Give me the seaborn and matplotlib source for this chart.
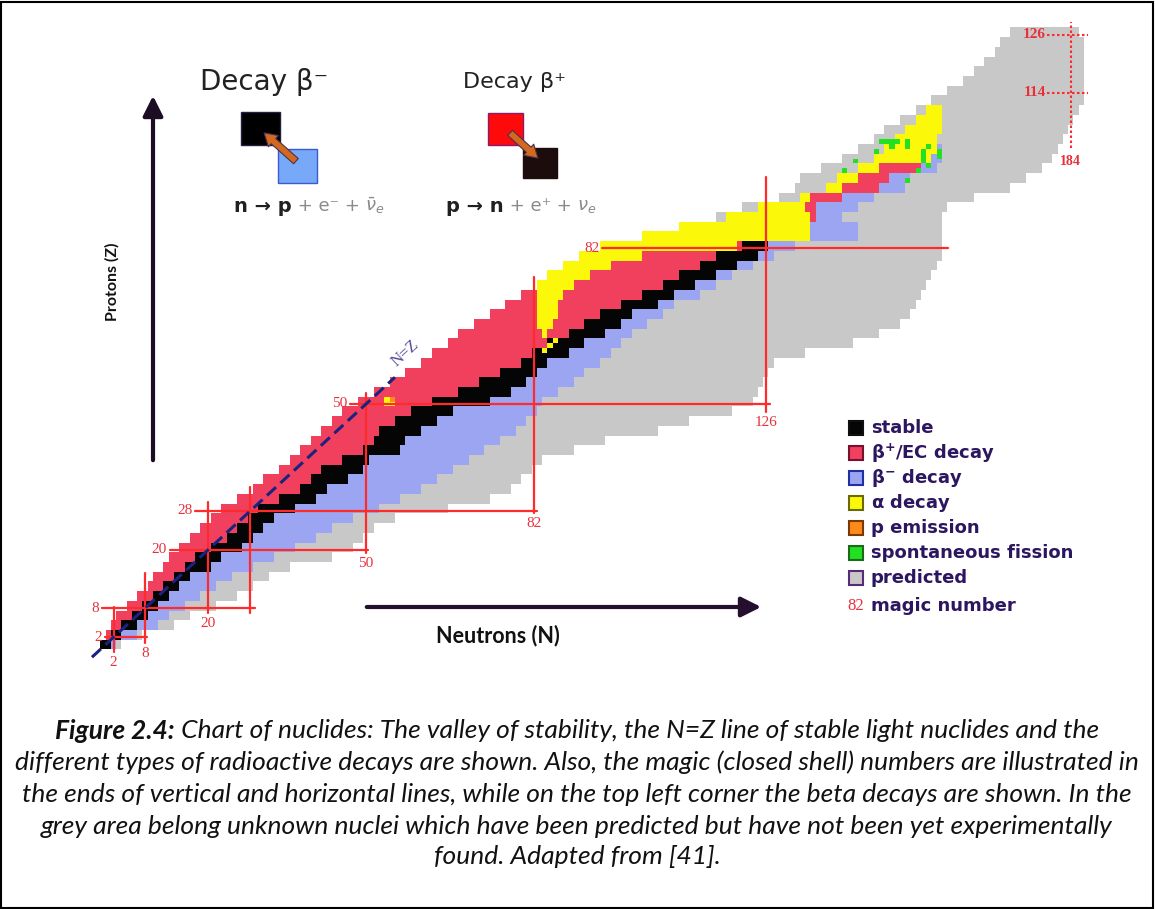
import numpy as np
import pandas as pd
import matplotlib
matplotlib.use("Agg")
import matplotlib.pyplot as plt
import seaborn as sns
from matplotlib.colors import ListedColormap
from matplotlib.patches import Rectangle, FancyArrowPatch

W, H, DPI = 1155, 909, 100

# ---------------- data ----------------
# proton bands (lower Z of each 2-row band)
z_band = [0, 2, 4, 6, 8, 10, 12, 14, 16, 18, 20, 22, 24, 26, 28, 30, 32, 34, 36, 38,
          40, 42, 44, 46, 48, 50, 52, 54, 56, 58, 60, 62, 64, 66, 68, 70, 72, 74, 76, 78,
          80, 82, 84, 86, 88, 90, 92, 94, 96, 98, 100, 102, 104, 106, 108, 110, 112, 114,
          116, 118, 120, 122, 124, 126]
pred_lo = [0, 1, 2, 3, 5, 7, 9, 10, 12, 13, 15, 17, 19, 21, 23, 26, 29, 31, 34, 36,
           38, 40, 42, 44, 46, 49, 52, 55, 58, 61, 63, 66, 68, 71, 74, 77, 80, 83, 85, 88,
           91, 95, 103, 110, 117, 122, 129, 132, 133, 137, 141, 144, 147, 149, 152, 155,
           158, 161, 164, 166, 168, 170, 171, 173]
known_lo = [0, 1, 2, 3, 5, 7, 9, 10, 12, 13, 15, 17, 19, 21, 23, 26, 29, 31, 34, 36,
            38, 40, 42, 44, 46, 49, 52, 55, 58, 61, 63, 66, 68, 71, 74, 77, 80, 83, 85, 88,
            91, 95, 103, 110, 119, 125, 133, 138, 140, 144, 147, 149, 151, 153, 155, 157,
            158, 161, 164, 166, 168, 170, 171, 173]
alpha_lo = [0] * 25 + [54, 0, 0, 0, 0, 0, 0, 84, 83, 83, 83, 83, 83, 85, 88,
                       91, 95, 103, 110, 119, 125, 133, 138, 140, 144, 147, 149, 151, 153, 155, 157,
                       0, 0, 0, 0, 0, 0, 0, 0]
alpha_hi = [0] * 25 + [56, 0, 0, 0, 0, 0, 0, 85, 86, 87, 87, 88, 90, 93, 97,
                       103, 121, 135, 135, 135, 134, 135, 141, 144, 148, 158, 159, 159, 160, 160, 160,
                       0, 0, 0, 0, 0, 0, 0, 0]
stable_lo = [0, 2, 4, 6, 8, 10, 12, 14, 16, 18, 21, 24, 26, 28, 30, 34, 38, 40, 42, 46,
             50, 52, 53, 56, 59, 63, 68, 72, 76, 80, 82, 85, 89, 92, 95, 99, 103, 107, 110, 114,
             117, 122, 135, 135, 136, 136, 141, 148, 150, 156, 158, 159, 159, 160, 160, 160,
             158, 161, 164, 166, 168, 170, 171, 173]
stable_hi = [2, 4, 7, 9, 11, 13, 15, 17, 21, 23, 27, 29, 31, 33, 37, 41, 43, 47, 50, 51,
             57, 58, 61, 64, 67, 74, 78, 81, 83, 85, 89, 92, 96, 99, 101, 106, 109, 113, 117, 121,
             125, 127, 135, 135, 136, 136, 141, 148, 150, 156, 158, 159, 159, 160, 160, 160,
             158, 161, 164, 166, 168, 170, 171, 173]
bminus_hi = [3, 7, 11, 13, 16, 19, 22, 25, 29, 33, 37, 41, 44, 48, 53, 57, 61, 64, 67, 70,
             73, 76, 79, 81, 83, 84, 87, 90, 92, 95, 97, 99, 101, 104, 107, 109, 114, 117, 120, 124,
             128, 132, 144, 144, 141, 144, 147, 153, 154, 159, 160, 160, 159, 160, 160, 160,
             158, 161, 164, 166, 168, 170, 171, 173]
pred_hi = [4, 8, 14, 17, 22, 26, 29, 32, 36, 44, 48, 50, 52, 56, 66, 74, 78, 80, 82, 84,
           90, 96, 106, 112, 120, 124, 125, 126, 127, 128, 134, 143, 148, 152, 154, 155, 156, 157, 158, 159,
           160, 160, 160, 160, 160, 161, 166, 173, 176, 179, 181, 182, 183, 184, 185, 186,
           187, 187, 187, 187, 187, 187, 187, 186]

# isolated cells
fission_z = [104, 104, 104, 104, 103, 104, 103, 100, 101, 102, 103, 99, 101, 102, 100, 102, 98, 96, 98]
fission_n = [148, 149, 150, 151, 150, 153, 153, 156, 156, 156, 157, 157, 159, 159, 143, 147, 141, 153, 155]
pemit_z = [51]
pemit_n = [55]
alpha_spot_z = [61, 62, 63]
alpha_spot_n = [84, 85, 86]

# magic numbers
magic_h_z = [2, 8, 20, 28, 50, 82]
magic_h_n0 = [0.4, -0.2, 12.7, 17.5, 47.0, 94.9]
magic_h_n1 = [8.4, 28.9, 50.4, 82.5, 126.8, 160.6]
magic_v_n = [2, 8, 20, 28, 50, 82, 126]
magic_v_z0 = [-1.0, 0.8, 7.0, 7.0, 19.3, 27.6, 48.4]
magic_v_z1 = [8.2, 15.2, 29.8, 32.9, 52.3, 76.1, 96.7]
magic_v_label = ["2", "8", "20", "", "50", "82", "126"]
pred_magic_z = [126, 114]
pred_magic_n = [184]

legend_labels = ["stable", r"$\mathbf{\beta^{+}}$/EC decay", r"$\mathbf{\beta^{-}}$ decay",
                 r"$\mathbf{\alpha}$ decay", "p emission", "spontaneous fission", "predicted"]

caption_lines = [
    "Chart of nuclides: The valley of stability, the N=Z line of stable light nuclides and the",
    "different types of radioactive decays are shown. Also, the magic (closed shell) numbers are illustrated in",
    "the ends of vertical and horizontal lines, while on the top left corner the beta decays are shown. In the",
    "grey area belong unknown nuclei which have been predicted but have not been yet experimentally",
    "found. Adapted from [41].",
]

# ---------------- styling ----------------
sns.set_theme(style="white")
plt.rcParams["font.family"] = ["DejaVu Sans"]

C_STABLE, C_BPLUS, C_BMINUS = "#050505", "#f0405e", "#9ba5f2"
C_ALPHA, C_P, C_FIS, C_PRED = "#fcf80a", "#ff8c1a", "#22e022", "#c8c8c8"
C_MAGIC = "#ff2a2a"
C_MAGIC_TXT = "#e8303a"

NMAX, ZMAX = 191, 131
grid = np.zeros((ZMAX, NMAX), dtype=int)
for i, z0 in enumerate(z_band):
    for z in (z0, z0 + 1):
        row = grid[z]
        row[pred_lo[i]:pred_hi[i]] = 7
        row[known_lo[i]:stable_lo[i]] = 2
        row[alpha_lo[i]:alpha_hi[i]] = 4
        row[stable_lo[i]:stable_hi[i]] = 1
        row[stable_hi[i]:bminus_hi[i]] = 3
for z, n in zip(fission_z, fission_n):
    grid[z, n] = 6
for z, n in zip(pemit_z, pemit_n):
    grid[z, n] = 5
for z, n in zip(alpha_spot_z, alpha_spot_n):
    grid[z, n] = 4
df = pd.DataFrame(grid)

fig = plt.figure(figsize=(W / DPI, H / DPI), dpi=DPI)
fig.patch.set_facecolor("white")

PXN, PXZ = 5.26, 4.86
ax_left = 103 - 0.5 * PXN
ax_bottom_px = 647 + 0.5 * PXZ
ax = fig.add_axes([ax_left / W, (H - ax_bottom_px) / H, NMAX * PXN / W, ZMAX * PXZ / H])
cmap = ListedColormap([C_STABLE, C_BPLUS, C_BMINUS, C_ALPHA, C_P, C_FIS, C_PRED])
sns.heatmap(df, ax=ax, cmap=cmap, vmin=0.5, vmax=7.5, mask=(df == 0), cbar=False,
            xticklabels=False, yticklabels=False, linewidths=0)
ax.set_xlim(0, NMAX)
ax.set_ylim(0, ZMAX)
ax.axis("off")


def X(n):
    return n + 0.5


def Y(z):
    return z + 0.5


SERIF = "Liberation Serif"
# magic lines
for z, n0, n1 in zip(magic_h_z, magic_h_n0, magic_h_n1):
    ax.plot([X(n0), X(n1)], [Y(z), Y(z)], color=C_MAGIC, lw=1.6, clip_on=False, zorder=5)
    ax.annotate(str(z), xy=(X(n0), Y(z)), xytext=(-2, 0), textcoords="offset points",
                ha="right", va="center", color=C_MAGIC_TXT, fontsize=11, family=SERIF,
                annotation_clip=False)
for n, z0, z1, lbl in zip(magic_v_n, magic_v_z0, magic_v_z1, magic_v_label):
    ax.plot([X(n), X(n)], [Y(z0), Y(z1)], color=C_MAGIC, lw=1.6, clip_on=False, zorder=5)
    if lbl:
        ax.annotate(lbl, xy=(X(n), Y(z0)), xytext=(0, -3), textcoords="offset points",
                    ha="center", va="top", color=C_MAGIC_TXT, fontsize=11, family=SERIF,
                    annotation_clip=False)
for z in pred_magic_z:
    ax.plot([X(179.5), X(187.3)], [Y(z), Y(z)], color=C_MAGIC, lw=1.5, ls=(0, (1.2, 1.2)),
            clip_on=False, zorder=5)
    ax.annotate(str(z), xy=(X(179.5), Y(z)), xytext=(-1, 0), textcoords="offset points",
                ha="right", va="center", color=C_MAGIC_TXT, fontsize=11, family=SERIF,
                fontweight="bold", annotation_clip=False)
for n in pred_magic_n:
    ax.plot([X(n), X(n)], [Y(102.7), Y(128.6)], color=C_MAGIC, lw=1.5, ls=(0, (1.2, 1.2)),
            clip_on=False, zorder=5)
    ax.annotate(str(n), xy=(X(n), Y(102.7)), xytext=(0, -5), textcoords="offset points",
                ha="center", va="top", color=C_MAGIC_TXT, fontsize=10, family=SERIF,
                fontweight="bold", annotation_clip=False)

# N = Z line
ax.plot([X(-2.1), X(55.5)], [Y(-2.1), Y(55.5)], color="#1a237e", lw=2.2,
        ls=(0, (4, 2)), clip_on=False, zorder=6)
ax.text(X(57.5), Y(60.5), "N=Z", rotation=43, color="#5a4a9a", fontsize=12,
        family=SERIF, ha="center", va="center", rotation_mode="anchor", zorder=6)


def fx(x):
    return x / W


def fy(y):
    return 1 - y / H


# axis arrows
fig.add_artist(FancyArrowPatch((fx(153), fy(463)), (fx(153), fy(93)), transform=fig.transFigure,
                               arrowstyle="-|>,head_length=0.6,head_width=0.3", mutation_scale=20,
                               lw=3, color="#1c0c24"))
fig.text(fx(112), fy(282), "Protons (Z)", rotation=90, ha="center", va="center",
         fontsize=11.5, fontweight="bold", family="Lato", color="#111111")
fig.add_artist(FancyArrowPatch((fx(364), fy(607)), (fx(764), fy(607)), transform=fig.transFigure,
                               arrowstyle="-|>,head_length=0.6,head_width=0.3", mutation_scale=20,
                               lw=3, color="#24102e"))
fig.text(fx(498), fy(636), "Neutrons (N)", ha="center", va="center",
         fontsize=15.5, fontweight="bold", family="Lato", color="#111111")

# beta decay inset
fig.text(fx(200), fy(82), "Decay β⁻", ha="left", va="center", fontsize=20, color="#222222")
fig.text(fx(463), fy(82), "Decay β⁺", ha="left", va="center", fontsize=16, color="#222222")
fig.add_artist(Rectangle((fx(241), fy(145)), 39 / W, 33 / H, transform=fig.transFigure,
                         facecolor="black", edgecolor="#202040", lw=1))
fig.add_artist(Rectangle((fx(278), fy(183)), 39 / W, 34 / H, transform=fig.transFigure,
                         facecolor="#78a9f8", edgecolor="#3a5ad0", lw=1))
fig.add_artist(Rectangle((fx(488), fy(145)), 35 / W, 32 / H, transform=fig.transFigure,
                         facecolor="#ff0a0a", edgecolor="#8a1a6a", lw=1))
fig.add_artist(Rectangle((fx(523), fy(178)), 34 / W, 30 / H, transform=fig.transFigure,
                         facecolor="#1c0c0c", edgecolor="#1c0c0c", lw=1))
for p0, p1 in [((298, 163), (262, 131)), ((508, 131), (540, 160))]:
    fig.add_artist(FancyArrowPatch((fx(p0[0]), fy(p0[1])), (fx(p1[0]), fy(p1[1])),
                                   transform=fig.transFigure,
                                   arrowstyle="simple,head_length=0.5,head_width=0.6,tail_width=0.28",
                                   mutation_scale=18, facecolor="#d2691e", edgecolor="#4a3050",
                                   lw=0.8))

renderer = fig.canvas.get_renderer()


def chain(pieces, x_px, y_px, align="left"):
    items = []
    for s, kw in pieces:
        t = fig.text(0, 0, s, ha="left", va="center", **kw)
        items.append((t, t.get_window_extent(renderer=renderer).width))
    total = sum(w for _, w in items)
    x = x_px - total / 2 if align == "center" else x_px
    for t, w in items:
        t.set_position((fx(x), fy(y_px)))
        x += w


dark = dict(fontsize=14, color="#202020", fontweight="bold")
grey = dict(fontsize=13, color="#8a8a8a")
chain([("n → p", dark), (" + e⁻ + ", grey), (r"$\bar{\nu}_e$", grey)], 234, 206)
chain([("p → n", dark), (" + e⁺ + ", grey), (r"$\nu_e$", grey)], 446, 206)

# legend
leg_colors = [C_STABLE, C_BPLUS, C_BMINUS, C_ALPHA, C_P, C_FIS, C_PRED]
leg_edges = ["#101010", "#7a1030", "#2030a0", "#6a6a00", "#7a3a00", "#1a6a1a", "#5a2a7a"]
leg_y = [428, 453, 478, 503, 528, 553, 578]
LEG_FS = 13
for c, e, y, lbl in zip(leg_colors, leg_edges, leg_y, legend_labels):
    fig.add_artist(Rectangle((fx(849), fy(y + 7)), 14 / W, 14 / H, transform=fig.transFigure,
                             facecolor=c, edgecolor=e, lw=1.5))
    fig.text(fx(871), fy(y), lbl, ha="left", va="center", fontsize=LEG_FS, fontweight="bold",
             color="#2d1660")
fig.text(fx(856), fy(606), "82", ha="center", va="center", fontsize=12, family=SERIF,
         color=C_MAGIC_TXT)
fig.text(fx(871), fy(606), "magic number", ha="left", va="center", fontsize=LEG_FS,
         fontweight="bold", color="#2d1660")

# caption
cap_font = "Lato"
CAP_FS = 19
cap_y = [731, 762, 794, 826, 857]
chain([("Figure 2.4:", dict(fontsize=CAP_FS, family=cap_font, style="italic", fontweight="bold", color="#111111")),
       (" " + caption_lines[0], dict(fontsize=CAP_FS, family=cap_font, style="italic", color="#111111"))],
      577, cap_y[0], align="center")
for line, y in zip(caption_lines[1:], cap_y[1:]):
    fig.text(fx(577), fy(y), line, ha="center", va="center", fontsize=CAP_FS, family=cap_font,
             style="italic", color="#111111")

# outer frame
fig.add_artist(Rectangle((0.001, 0.001), 0.997, 0.997, transform=fig.transFigure, fill=False,
                         edgecolor="black", lw=1.5))

fig.savefig("out.png", dpi=DPI)
